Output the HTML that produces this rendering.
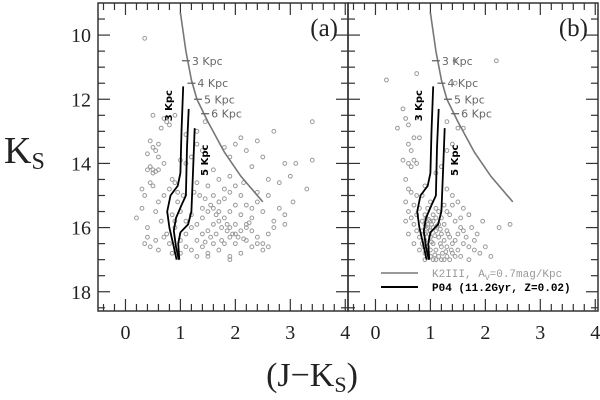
<!DOCTYPE html>
<html><head><meta charset="utf-8"><style>
html,body{margin:0;padding:0;background:#fff;}
svg{display:block;}
</style></head><body>
<svg id="chart" width="600" height="400" viewBox="0 0 600 400" xmlns="http://www.w3.org/2000/svg"></svg>
<script>
const xTicks=[0,1,2,3,4];
const yTicks=[10,12,14,16,18];
const pointsA=[[0.35,10.1],[0.5,12.5],[0.7,12.6],[0.8,12.8],[0.65,12.9],[0.9,12.5],[0.75,12.7],[0.45,13.3],[0.5,13.5],[0.6,13.4],[0.55,13.6],[0.4,13.7],[0.6,13.8],[0.7,14.0],[0.45,14.1],[0.5,14.2],[0.55,14.25],[0.4,14.2],[0.5,14.3],[0.6,14.2],[0.45,14.6],[0.5,14.7],[0.3,14.8],[0.35,15.0],[0.3,15.4],[0.2,15.7],[0.4,16.0],[0.4,16.3],[0.45,16.6],[0.35,16.5],[0.55,16.4],[0.6,16.7],[0.7,16.3],[0.65,15.8],[0.55,15.5],[0.6,15.2],[0.7,15.0],[0.8,14.8],[0.85,14.5],[1.1,14.0],[1.2,13.8],[1.4,13.6],[1.3,13.4],[1.6,14.2],[1.8,13.5],[1.9,13.8],[2.1,13.2],[2.0,13.4],[2.2,13.6],[2.4,13.3],[2.5,13.8],[2.7,13.0],[2.9,14.0],[3.1,14.0],[3.4,13.9],[3.4,12.7],[3.3,14.8],[2.6,14.5],[2.8,14.6],[3.0,14.4],[2.3,14.1],[2.4,14.9],[2.6,15.0],[2.8,15.4],[2.9,15.6],[3.05,15.2],[2.9,15.9],[2.7,15.8],[2.5,15.5],[2.3,15.7],[2.2,15.3],[2.1,15.0],[2.0,14.7],[1.9,14.9],[1.8,15.1],[1.7,15.2],[1.6,15.4],[1.5,15.5],[1.4,15.7],[1.3,15.9],[1.2,16.0],[1.1,16.2],[1.0,16.4],[1.1,16.6],[1.0,16.8],[1.2,16.7],[1.3,16.4],[1.4,16.2],[1.5,16.1],[1.6,15.9],[1.7,15.8],[1.8,15.7],[1.9,15.5],[2.0,15.3],[2.1,15.6],[2.2,15.9],[2.3,16.1],[2.4,16.3],[2.5,16.5],[2.6,16.2],[2.7,16.0],[2.5,16.7],[2.3,16.6],[2.2,16.4],[2.1,16.8],[2.0,16.5],[1.9,16.3],[1.8,16.5],[1.7,16.7],[1.6,16.5],[1.5,16.8],[1.4,16.6],[1.3,16.9],[1.5,16.9],[1.9,16.9],[1.9,17.0],[2.0,16.2],[2.05,16.3],[1.85,16.1],[1.75,16.0],[1.65,15.6],[1.55,15.3],[1.45,15.1],[1.35,15.0],[1.3,14.6],[1.25,14.9],[1.5,14.7],[1.7,14.5],[1.8,14.8],[1.9,14.4],[2.15,14.6],[2.0,15.9],[1.9,16.0],[2.1,16.1],[2.2,16.0],[2.3,15.4],[2.4,15.2],[1.6,15.0],[1.7,15.5],[1.4,15.4],[1.2,15.6],[1.1,15.8],[1.0,15.5],[0.95,15.2],[0.85,15.6],[0.9,16.0],[0.75,16.2],[0.8,16.5],[0.85,16.8],[0.9,15.8],[0.95,14.9],[1.05,15.0],[0.9,14.6],[1.0,13.9],[1.1,13.1],[1.3,13.0],[1.45,12.7],[2.6,16.6],[2.4,16.5],[1.75,16.4],[2.15,16.35],[1.95,16.2],[1.85,15.9],[2.25,15.85],[1.55,16.3],[1.65,16.2],[1.45,16.45]];
const pointsB=[[0.2,11.4],[0.5,12.3],[0.4,12.9],[0.75,11.2],[0.55,12.6],[0.6,12.8],[0.6,13.4],[0.65,13.6],[0.7,13.2],[0.8,13.2],[0.5,13.9],[0.75,14.0],[0.6,14.0],[0.65,14.1],[0.7,13.9],[0.55,14.5],[0.6,14.8],[0.65,14.9],[0.75,15.0],[0.55,15.2],[0.85,15.0],[0.9,14.7],[1.1,14.3],[1.2,14.1],[1.3,13.6],[1.4,13.4],[1.5,12.9],[1.3,12.7],[1.6,12.9],[1.45,10.8],[2.2,10.8],[1.45,11.5],[1.3,14.8],[1.4,15.0],[1.5,15.2],[1.6,15.4],[1.7,15.6],[1.75,16.0],[1.5,16.2],[1.95,15.8],[2.25,16.0],[2.45,15.9],[2.0,16.6],[1.9,16.8],[2.1,16.9],[1.7,17.0],[1.8,16.7],[1.6,16.5],[1.5,16.7],[1.4,16.8],[1.3,16.9],[1.2,17.0],[1.1,17.0],[1.0,16.9],[0.9,16.8],[0.8,16.7],[0.7,16.5],[0.6,16.2],[0.55,15.8],[0.6,15.5],[0.65,15.7],[0.7,15.9],[0.75,16.1],[0.8,16.3],[0.85,16.5],[0.9,16.2],[0.95,16.0],[1.0,15.8],[1.05,15.6],[1.1,15.4],[1.15,15.5],[1.2,15.7],[1.25,15.9],[1.3,16.1],[1.35,16.3],[1.4,16.5],[1.45,16.4],[1.35,15.6],[1.45,15.8],[1.25,15.3],[1.0,15.2],[0.95,15.4],[0.9,15.6],[0.85,15.8],[0.8,15.4],[0.7,15.3],[0.75,15.6],[1.0,16.3],[1.05,16.5],[1.1,16.7],[1.15,16.9],[1.2,16.6],[1.25,16.4],[1.3,16.6],[1.1,16.1],[1.15,16.3],[1.05,16.0],[0.95,16.6],[1.0,16.7],[0.9,17.0],[1.25,17.0],[1.15,15.9],[1.2,16.2],[1.05,15.8],[0.95,15.9],[1.1,15.7],[0.9,15.9],[0.85,16.1],[0.9,16.4],[1.0,16.1],[1.3,15.5],[1.4,15.3],[1.55,15.7],[1.6,16.1],[1.65,16.3],[1.55,16.0],[1.7,16.6],[1.8,16.4],[1.85,16.2],[1.35,17.0],[1.45,16.9],[1.55,16.9],[1.05,17.0],[0.92,15.7],[0.97,15.75],[1.02,15.9],[0.93,16.05],[0.98,16.2],[1.08,16.25],[1.12,15.95],[1.18,16.05],[1.22,16.8],[1.28,16.75],[1.02,16.45],[0.88,16.6],[1.32,16.2],[1.18,16.5],[1.38,16.7],[1.08,16.85]];
const iso1=[[1.05,11.6],[1.02,13.0],[1.0,14.3],[0.95,14.7],[0.82,15.0],[0.76,15.5],[0.8,16.0],[0.88,16.6],[0.93,17.0]];
const iso2=[[1.15,12.3],[1.12,13.5],[1.1,15.0],[1.02,15.3],[0.92,15.7],[0.88,16.1],[0.92,16.6],[0.97,17.0]];
const iso3=[[1.26,12.9],[1.23,14.2],[1.2,15.5],[1.14,15.9],[1.0,16.15],[0.96,16.5],[0.98,17.0]];
const k2=[[1.0,9.3],[1.1,10.5],[1.2,11.4],[1.3,12.0],[1.5,12.7],[1.8,13.65],[2.1,14.4],[2.5,15.2]];
const distMarks=[[1.1,10.8,'3 Kpc'],[1.2,11.5,'4 Kpc'],[1.32,12.0,'5 Kpc'],[1.45,12.45,'6 Kpc']];

const svg=document.getElementById('chart');
const NS='http://www.w3.org/2000/svg';
function mk(tag,attrs,parent){const e=document.createElementNS(NS,tag);for(const k in attrs)e.setAttribute(k,attrs[k]);(parent||svg).appendChild(e);return e;}
const panels=[{x0:98,x1:348,pts:pointsA,lab:'(a)',name:'panel-a'},{x0:348,x1:598,pts:pointsB,lab:'(b)',name:'panel-b'}];
const Y0=3,Y1=311,ymin=9.0,ymax=18.6;
const sy=v=>Y0+(v-ymin)/(ymax-ymin)*(Y1-Y0);
panels.forEach((p,pi)=>{
  const sx=v=>p.x0+(v+0.5)/4.55*(p.x1-p.x0);
  const g=mk('g',{});
  
  
  for(let v=-0.4;v<=4.05;v+=0.2){const vv=Math.round(v*10)/10;const maj=Math.abs(vv-Math.round(vv))<0.01;const L=maj?12:7;const X=sx(vv);
    mk('line',{x1:X,y1:Y0,x2:X,y2:Y0+L,stroke:'#333','stroke-width':1.2},g);
    mk('line',{x1:X,y1:Y1,x2:X,y2:Y1-L,stroke:'#333','stroke-width':1.2},g);}
  for(let v=9.5;v<=18.5;v+=0.5){const maj=Math.abs(v-Math.round(v))<0.01&&Math.round(v)%2===0;const L=maj?12:7;const Y=sy(v);
    mk('line',{x1:p.x0,y1:Y,x2:p.x0+L,y2:Y,stroke:'#333','stroke-width':1.2},g);
    mk('line',{x1:p.x1,y1:Y,x2:p.x1-L,y2:Y,stroke:'#333','stroke-width':1.2},g);}
  xTicks.forEach(t=>{const e=mk('text',{x:sx(t),y:339,'text-anchor':'middle','font-family':'Liberation Serif, serif','font-size':20,fill:'#222'},g);e.textContent=t;
    });
  if(pi===0) yTicks.forEach(t=>{const e=mk('text',{x:91,y:sy(t)+7,'text-anchor':'end','font-family':'Liberation Serif, serif','font-size':20,fill:'#222'},g);e.textContent=t;
    });
  p.pts.forEach(d=>{const c=mk('circle',{cx:sx(d[0]),cy:sy(d[1]),r:1.9,fill:'none',stroke:'#9a9a9a','stroke-width':1},g);
    });
  const path=a=>a.map((d,i)=>(i?'L':'M')+sx(d[0]).toFixed(1)+','+sy(d[1]).toFixed(1)).join(' ');
  const kc=mk('path',{d:path(k2),fill:'none',stroke:'#777','stroke-width':1.6},g);
  
  distMarks.forEach(m=>{const X=sx(m[0]),Y=sy(m[1]);mk('line',{x1:X-4,y1:Y,x2:X+4,y2:Y,stroke:'#666','stroke-width':1.3},g);
    const t=mk('text',{x:X+6,y:Y+4,'font-family':'DejaVu Sans, sans-serif','font-size':11,fill:'#666'},g);t.textContent=m[2];
    });
  [iso1,iso2,iso3].forEach((a,i)=>{const e=mk('path',{d:path(a),fill:'none',stroke:'#000','stroke-width':1.8},g);
    });
  const t1=mk('text',{transform:`translate(${sx(0.85)},${sy(12.2)}) rotate(-90)`,'font-family':'DejaVu Sans, sans-serif','font-size':10,'font-weight':'bold',fill:'#000','text-anchor':'middle'},g);t1.textContent='3 Kpc';
  
  const t2=mk('text',{transform:`translate(${sx(1.5)},${sy(13.9)}) rotate(-90)`,'font-family':'DejaVu Sans, sans-serif','font-size':10,'font-weight':'bold',fill:'#000','text-anchor':'middle'},g);t2.textContent='5 Kpc';
  
  const pl=mk('text',{x:p.x1-10,y:36,'text-anchor':'end','font-family':'Liberation Serif, serif','font-size':25,fill:'#222'},g);pl.textContent=p.lab;
  
  const fr=mk('rect',{x:p.x0,y:Y0,width:p.x1-p.x0,height:Y1-Y0,fill:'none',stroke:'#333','stroke-width':1.5},g);
  
});
const lg=mk('g',{});


mk('line',{x1:381,y1:273,x2:418,y2:273,stroke:'#999','stroke-width':2},lg);
mk('line',{x1:381,y1:287,x2:418,y2:287,stroke:'#000','stroke-width':2},lg);
const l1=mk('text',{x:432,y:277,'font-family':'Liberation Mono, monospace','font-size':11,fill:'#999'},lg);l1.textContent='K2III, A';
const s1=mk('tspan',{'font-size':8,dy:3},l1);s1.textContent='V';
const s2=mk('tspan',{dy:-3},l1);s2.textContent='=0.7mag/Kpc';

const l2=mk('text',{x:432,y:291,'font-family':'Liberation Mono, monospace','font-size':11,'font-weight':'bold',fill:'#000'},lg);l2.textContent='P04 (11.2Gyr, Z=0.02)';

const yt=mk('text',{x:4,y:163,'font-family':'Liberation Serif, serif','font-size':38,fill:'#222'});
yt.textContent='K';
const ys=mk('tspan',{'font-size':24,dy:6},yt);ys.textContent='S';

const xt=mk('text',{x:312,y:386,'text-anchor':'middle','font-family':'Liberation Serif, serif','font-size':34,fill:'#222'});
xt.textContent='(J\u2212K';
const xs=mk('tspan',{'font-size':22,dy:6},xt);xs.textContent='S';
const xe=mk('tspan',{dy:-6},xt);xe.textContent=')';

</script>
</body></html>
